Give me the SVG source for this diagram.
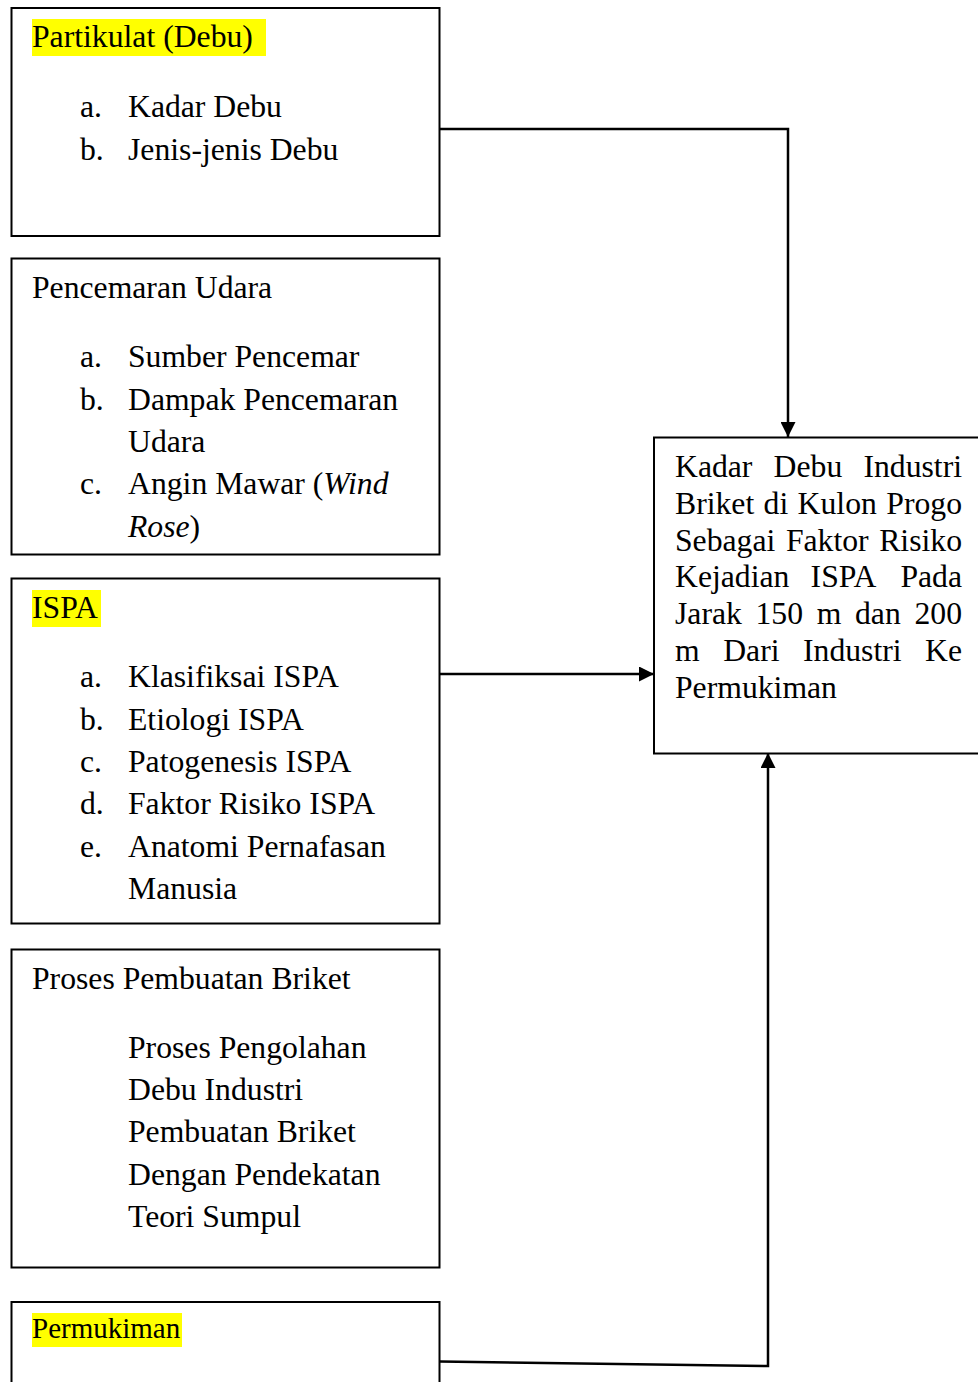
<svg xmlns="http://www.w3.org/2000/svg" width="978" height="1382" viewBox="0 0 978 1382">
<defs>
<style>
.box{fill:#fff;stroke:#000;stroke-width:2}
.t{font-family:"Liberation Serif","Times New Roman",serif;font-size:31.7px;fill:#000}
.s{font-size:29px}
.hl{fill:#ffff00}
.ln{fill:none;stroke:#000;stroke-width:2.5}
</style>
<marker id="arr" markerWidth="15" markerHeight="15" viewBox="0 0 15 15" refX="15" refY="7.5" orient="auto" markerUnits="userSpaceOnUse">
<path d="M0,0 L15,7.5 L0,15 Z" fill="#000"/>
</marker>
</defs>
<rect width="978" height="1382" fill="#fff"/>

<g id="connectors">
<polyline class="ln" points="440,129 788,129 788,437" marker-end="url(#arr)"/>
<line class="ln" x1="440" y1="674" x2="654" y2="674" marker-end="url(#arr)"/>
<polyline class="ln" points="440,1361.5 768,1366 768,753" marker-end="url(#arr)"/>
</g>

<g id="node-partikulat">
<rect class="box" x="11.5" y="8" width="428" height="228"/>
<rect class="hl" x="32" y="19" width="234" height="37"/>
<text class="t" x="32" y="47">Partikulat (Debu)</text>
<text class="t" x="80" y="117">a.</text><text class="t" x="128" y="117">Kadar Debu</text>
<text class="t" x="80" y="159.5">b.</text><text class="t" x="128" y="159.5">Jenis-jenis Debu</text>
</g>

<g id="node-pencemaran">
<rect class="box" x="11.5" y="258.5" width="428" height="296"/>
<text class="t" x="32" y="298">Pencemaran Udara</text>
<text class="t" x="80" y="367">a.</text><text class="t" x="128" y="367">Sumber Pencemar</text>
<text class="t" x="80" y="409.5">b.</text><text class="t" x="128" y="409.5">Dampak Pencemaran</text>
<text class="t" x="128" y="452">Udara</text>
<text class="t" x="80" y="494">c.</text><text class="t" x="128" y="494">Angin Mawar (<tspan font-style="italic">Wind</tspan></text>
<text class="t" x="128" y="536.5"><tspan font-style="italic">Rose</tspan>)</text>
</g>

<g id="node-ispa">
<rect class="box" x="11.5" y="578.5" width="428" height="345"/>
<rect class="hl" x="32" y="590" width="69" height="37"/>
<text class="t" x="32" y="618">ISPA</text>
<text class="t" x="80" y="687">a.</text><text class="t" x="128" y="687">Klasifiksai ISPA</text>
<text class="t" x="80" y="729.5">b.</text><text class="t" x="128" y="729.5">Etiologi ISPA</text>
<text class="t" x="80" y="772">c.</text><text class="t" x="128" y="772">Patogenesis ISPA</text>
<text class="t" x="80" y="814">d.</text><text class="t" x="128" y="814">Faktor Risiko ISPA</text>
<text class="t" x="80" y="856.5">e.</text><text class="t" x="128" y="856.5">Anatomi Pernafasan</text>
<text class="t" x="128" y="899">Manusia</text>
</g>

<g id="node-proses">
<rect class="box" x="11.5" y="949.5" width="428" height="318"/>
<text class="t" x="32" y="989">Proses Pembuatan Briket</text>
<text class="t" x="128" y="1058">Proses Pengolahan</text>
<text class="t" x="128" y="1100">Debu Industri</text>
<text class="t" x="128" y="1142">Pembuatan Briket</text>
<text class="t" x="128" y="1184.5">Dengan Pendekatan</text>
<text class="t" x="128" y="1227">Teori Sumpul</text>
</g>

<g id="node-permukiman">
<rect class="box" x="11.5" y="1302" width="428" height="100"/>
<rect class="hl" x="32" y="1313" width="150" height="34"/>
<text class="t s" x="32" y="1338">Permukiman</text>
</g>

<g id="node-kadar">
<rect class="box" x="654" y="437.5" width="340" height="316"/>
<text class="t" y="477"><tspan x="675">Kadar</tspan><tspan x="773.6">Debu</tspan><tspan x="962" text-anchor="end">Industri</tspan></text>
<text class="t" y="513.8"><tspan x="675">Briket</tspan><tspan x="763.6">di</tspan><tspan x="797.6">Kulon</tspan><tspan x="962" text-anchor="end">Progo</tspan></text>
<text class="t" y="550.6"><tspan x="675">Sebagai</tspan><tspan x="785.9">Faktor</tspan><tspan x="962" text-anchor="end">Risiko</tspan></text>
<text class="t" y="587.4"><tspan x="675">Kejadian</tspan><tspan x="810.6">ISPA</tspan><tspan x="962" text-anchor="end">Pada</tspan></text>
<text class="t" y="624.2"><tspan x="675">Jarak</tspan><tspan x="755.5">150</tspan><tspan x="816.7">m</tspan><tspan x="855">dan</tspan><tspan x="962" text-anchor="end">200</tspan></text>
<text class="t" y="661"><tspan x="675">m</tspan><tspan x="723.2">Dari</tspan><tspan x="803">Industri</tspan><tspan x="962" text-anchor="end">Ke</tspan></text>
<text class="t" x="675" y="697.8">Permukiman</text>
</g>
</svg>
